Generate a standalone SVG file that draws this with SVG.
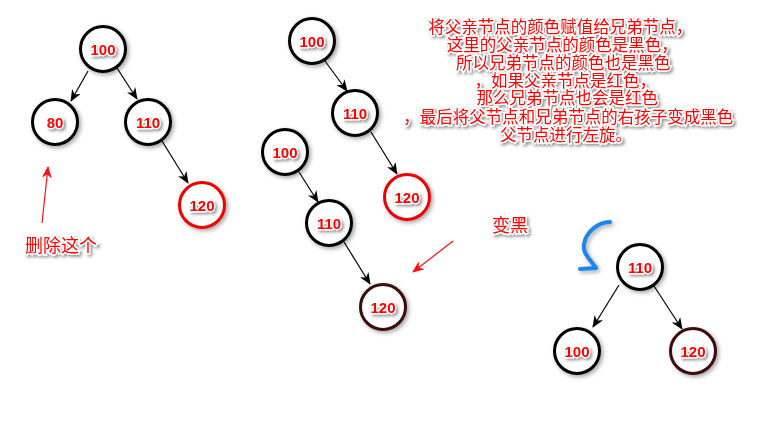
<svg xmlns="http://www.w3.org/2000/svg" width="770" height="446" viewBox="0 0 770 446">
<defs>
<style>
.n circle{fill:#fff;stroke:#000;stroke-width:3;filter:url(#cs)}
.n.red circle{stroke:#ee0000}
.n.dark circle{stroke:#3a0808}
.n text{font-family:"Liberation Sans",Arial,sans-serif;font-size:15px;font-weight:bold;fill:#ff0000;stroke:#fff;stroke-width:2.5;paint-order:stroke;text-anchor:middle;dominant-baseline:central;filter:url(#ts)}
.e{stroke:#000;stroke-width:1.2;fill:none;marker-end:url(#ah)}
.r{stroke:#ff1010;stroke-width:1.2;fill:none;marker-end:url(#rh)}
.lbl{font-family:"Noto Sans CJK SC","Liberation Serif",serif;font-size:16.5px;fill:#ff0000;stroke:#fff;stroke-width:3;paint-order:stroke;filter:url(#ts)}
.big{font-size:18px}
</style>
<filter id="ts" x="-20%" y="-40%" width="140%" height="180%">
<feGaussianBlur in="SourceAlpha" stdDeviation="1.4"/>
<feOffset dx="1.5" dy="1.5" result="o"/>
<feFlood flood-color="#000" flood-opacity="0.4"/>
<feComposite in2="o" operator="in" result="s"/>
<feMerge><feMergeNode in="s"/><feMergeNode in="SourceGraphic"/></feMerge>
</filter>
<filter id="cs" x="-30%" y="-30%" width="160%" height="160%">
<feGaussianBlur in="SourceAlpha" stdDeviation="2"/>
<feOffset dx="2" dy="2" result="o"/>
<feFlood flood-color="#000" flood-opacity="0.35"/>
<feComposite in2="o" operator="in" result="s"/>
<feMerge><feMergeNode in="s"/><feMergeNode in="SourceGraphic"/></feMerge>
</filter>
<marker id="ah" viewBox="0 0 12 10" refX="11" refY="5" markerWidth="12" markerHeight="10" markerUnits="userSpaceOnUse" orient="auto">
<path d="M0,0 L12,5 L0,10 L3.5,5 z" fill="#000"/>
</marker>
<marker id="rh" viewBox="0 0 12 10" refX="11" refY="5" markerWidth="12" markerHeight="10" markerUnits="userSpaceOnUse" orient="auto">
<path d="M0,0 L12,5 L0,10 L3.5,5 z" fill="#ff1010"/>
</marker>
</defs>
<rect width="770" height="446" fill="#fff"/>

<g id="connectors">
<line class="e" x1="88" y1="71" x2="71" y2="101"/>
<line class="e" x1="117" y1="68" x2="137" y2="99"/>
<line class="e" x1="162" y1="141" x2="188" y2="183"/>
<line class="e" x1="325" y1="61" x2="347" y2="91"/>
<line class="e" x1="371" y1="132" x2="397" y2="174"/>
<line class="e" x1="299" y1="172" x2="318" y2="202"/>
<line class="e" x1="344" y1="242" x2="370" y2="284"/>
<line class="e" x1="619" y1="285" x2="593" y2="327"/>
<line class="e" x1="654" y1="286" x2="682" y2="329"/>
<line class="r" x1="42" y1="223" x2="48" y2="167"/>
<line class="r" x1="453" y1="241" x2="413" y2="272"/>
<path d="M610,222 C598,222 586,232 584,244 C583,252 587,256 590,260 L596,268 L580,269" fill="none" stroke="#1a86ee" stroke-width="4" stroke-linecap="round" stroke-linejoin="round" filter="url(#cs)"/>
</g>

<g id="n100a" class="n"><circle cx="103" cy="49" r="22.5"/><text x="103" y="49">100</text></g>
<g id="n80" class="n"><circle cx="55" cy="122" r="22.5"/><text x="55" y="122">80</text></g>
<g id="n110a" class="n"><circle cx="148" cy="122" r="22.5"/><text x="148" y="122">110</text></g>
<g id="n120a" class="n red"><circle cx="202" cy="205" r="22.5"/><text x="202" y="205">120</text></g>

<g id="n100b" class="n"><circle cx="312" cy="41" r="22.5"/><text x="312" y="41">100</text></g>
<g id="n110b" class="n"><circle cx="355" cy="113" r="22.5"/><text x="355" y="113">110</text></g>
<g id="n120b" class="n red"><circle cx="407" cy="197" r="22.5"/><text x="407" y="197">120</text></g>

<g id="n100c" class="n"><circle cx="285" cy="152" r="22.5"/><text x="285" y="152">100</text></g>
<g id="n110c" class="n"><circle cx="329" cy="223" r="22.5"/><text x="329" y="223">110</text></g>
<g id="n120c" class="n dark"><circle cx="383" cy="307" r="22.5"/><text x="383" y="307">120</text></g>

<g id="n110d" class="n"><circle cx="640" cy="267" r="22.5"/><text x="640" y="267">110</text></g>
<g id="n100d" class="n"><circle cx="577" cy="351" r="22.5"/><text x="577" y="351">100</text></g>
<g id="n120d" class="n dark"><circle cx="693" cy="351" r="22.5"/><text x="693" y="351">120</text></g>

<g id="labels">
<text class="lbl big" x="25" y="252">删除这个</text>
<text class="lbl big" x="492" y="232">变黑</text>
<text class="lbl" text-anchor="middle">
<tspan x="562" y="33">将父亲节点的颜色赋值给兄弟节点，</tspan>
<tspan x="564" y="51">这里的父亲节点的颜色是黑色，</tspan>
<tspan x="565" y="69">所以兄弟节点的颜色也是黑色</tspan>
<tspan x="567" y="87">，如果父亲节点是红色，</tspan>
<tspan x="569" y="104">那么兄弟节点也会是红色</tspan>
<tspan x="570" y="123">，最后将父节点和兄弟节点的右孩子变成黑色</tspan>
<tspan x="566" y="141">父节点进行左旋。</tspan>
</text>
</g>
</svg>
